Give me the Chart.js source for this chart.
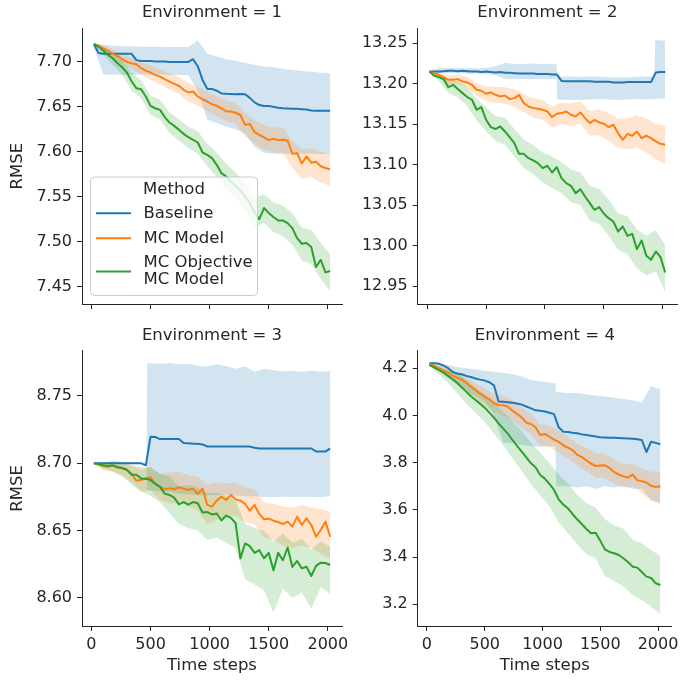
<!DOCTYPE html>
<html>
<head>
<meta charset="utf-8">
<script src="https://cdn.jsdelivr.net/npm/chart.js@4/dist/chart.umd.min.js"></script>
<style>
  body { margin: 0; background: #fff; }
  #page { position: relative; width: 683px; height: 682px; overflow: hidden; }
  .panel { position: absolute; }
</style>
</head>
<body>
<div id="page">
  <div class="panel" style="left:0;top:0"><canvas id="env1" width="360" height="320"></canvas></div>
  <div class="panel" style="left:340px;top:0"><canvas id="env2" width="343" height="320"></canvas></div>
  <div class="panel" style="left:0;top:320px"><canvas id="env3" width="360" height="362"></canvas></div>
  <div class="panel" style="left:340px;top:320px"><canvas id="env4" width="343" height="362"></canvas></div>
</div>
<script>
// x positions of the mean lines and of the band edges
const timeSteps = [20, 60, 100, 140, 180, 220, 260, 300, 340, 380, 420, 460, 500, 540, 580, 620, 660, 700, 740, 780,
  820, 860, 900, 940, 980, 1020, 1060, 1100, 1140, 1180, 1220, 1260, 1300, 1340, 1380, 1420, 1460, 1500, 1540, 1580,
  1620, 1660, 1700, 1740, 1780, 1820, 1860, 1900, 1940, 1980, 2020];
const bandSteps = [20, 100, 180, 260, 340, 420, 500, 580, 660, 740, 820, 900, 980, 1060, 1140, 1220, 1300, 1380,
  1460, 1540, 1620, 1700, 1780, 1860, 1940, 2020];
const xTicks = [0, 500, 1000, 1500, 2000];

const methods = ['Baseline', 'MC Model', ['MC Objective', 'MC Model']];
const legendTitle = 'Method';

// Environment 1
const env1Baseline = [7.720, 7.710, 7.709, 7.709, 7.709, 7.709, 7.709, 7.709, 7.709, 7.702,
  7.701, 7.701, 7.701, 7.7005, 7.7005, 7.7005, 7.700, 7.700, 7.700, 7.700,
  7.700, 7.703, 7.695, 7.680, 7.670, 7.670, 7.668, 7.665, 7.6645, 7.6644,
  7.664, 7.6642, 7.664, 7.660, 7.655, 7.652, 7.651, 7.651, 7.650, 7.649,
  7.6485, 7.6483, 7.648, 7.648, 7.6475, 7.647, 7.646, 7.6458, 7.6458, 7.6457, 7.6456];
const env1BaselineHi = [7.7205, 7.719, 7.718, 7.7175, 7.7175, 7.717, 7.717, 7.717, 7.7165, 7.7165, 7.7165, 7.724, 7.709,
  7.706, 7.703, 7.701, 7.699, 7.697, 7.695, 7.694, 7.692, 7.691, 7.690, 7.689, 7.688, 7.6875];
const env1BaselineLo = [7.716, 7.686, 7.686, 7.6855, 7.6855, 7.686, 7.686, 7.686, 7.6855, 7.6855, 7.6855, 7.668, 7.636,
  7.632, 7.628, 7.625, 7.620, 7.606, 7.599, 7.598, 7.598, 7.5975, 7.598, 7.598, 7.5975, 7.598];
const env1Model = [7.720, 7.7178, 7.7152, 7.7126, 7.7089, 7.7067, 7.703, 7.700, 7.6986, 7.6975,
  7.693, 7.6904, 7.6882, 7.6856, 7.6837, 7.6808, 7.6782, 7.6756, 7.6734, 7.669,
  7.666, 7.6671, 7.6615, 7.6585, 7.656, 7.653, 7.6512, 7.6485, 7.645, 7.6449,
  7.6435, 7.641, 7.630, 7.631, 7.622, 7.619, 7.616, 7.613, 7.6145, 7.613,
  7.6135, 7.6125, 7.598, 7.5985, 7.587, 7.595, 7.588, 7.589, 7.584, 7.582, 7.5805];
const env1ModelHi = [7.7205, 7.7185, 7.714, 7.709, 7.705, 7.700, 7.696, 7.692, 7.687, 7.683, 7.677, 7.672, 7.667,
  7.662, 7.657, 7.655, 7.643, 7.635, 7.630, 7.627, 7.627, 7.612, 7.603, 7.604, 7.600, 7.598];
const env1ModelLo = [7.7195, 7.711, 7.703, 7.697, 7.692, 7.686, 7.680, 7.675, 7.669, 7.664, 7.656, 7.651, 7.645,
  7.640, 7.634, 7.631, 7.617, 7.609, 7.602, 7.600, 7.598, 7.583, 7.570, 7.572, 7.566, 7.562];
const env1Objective = [7.720, 7.7171, 7.7126, 7.7078, 7.7041, 7.6986, 7.6941, 7.6882, 7.6782, 7.6708,
  7.6697, 7.6615, 7.6511, 7.6485, 7.6467, 7.6386, 7.6326, 7.6289, 7.6245, 7.620,
  7.6163, 7.6134, 7.6104, 7.5993, 7.5967, 7.593, 7.5856, 7.5763, 7.5726, 7.5671,
  7.5623, 7.5571, 7.5504, 7.543, 7.5326, 7.5252, 7.5375, 7.5319, 7.5275, 7.5237,
  7.5237, 7.5208, 7.5152, 7.5041, 7.4978, 7.4986, 7.4941, 7.4719, 7.480, 7.466, 7.4675];
const env1ObjectiveHi = [7.7205, 7.716, 7.710, 7.702, 7.688, 7.680, 7.662, 7.658, 7.644, 7.636, 7.628, 7.623, 7.609,
  7.599, 7.587, 7.577, 7.566, 7.549, 7.553, 7.544, 7.540, 7.532, 7.516, 7.513, 7.499, 7.486];
const env1ObjectiveLo = [7.7195, 7.708, 7.697, 7.686, 7.668, 7.660, 7.641, 7.636, 7.621, 7.613, 7.604, 7.598, 7.584,
  7.572, 7.558, 7.548, 7.535, 7.516, 7.521, 7.511, 7.506, 7.497, 7.479, 7.475, 7.459, 7.445];
const env1Ticks = [7.45, 7.50, 7.55, 7.60, 7.65, 7.70];

// Environment 2
const env2Baseline = [13.215, 13.215, 13.215, 13.2155, 13.216, 13.216, 13.2155, 13.216, 13.2155, 13.215,
  13.215, 13.2145, 13.215, 13.2145, 13.214, 13.2145, 13.2135, 13.2135, 13.213, 13.2125,
  13.2125, 13.2125, 13.2125, 13.212, 13.212, 13.212, 13.2115, 13.2115, 13.2035, 13.203,
  13.203, 13.203, 13.203, 13.203, 13.203, 13.2025, 13.2025, 13.2025, 13.2025, 13.2015,
  13.2015, 13.2015, 13.202, 13.202, 13.202, 13.202, 13.202, 13.202, 13.214, 13.2145, 13.2145];
const env2BaselineSteps = [20, 100, 180, 260, 340, 420, 500, 580, 660, 740, 820, 900, 980, 1060, 1098, 1104, 1220,
  1300, 1380, 1460, 1540, 1620, 1700, 1780, 1860, 1928, 1936, 2020];
const env2BaselineHi = [13.2155, 13.219, 13.2195, 13.219, 13.219, 13.219, 13.2195, 13.2215, 13.2255, 13.2245, 13.2245,
  13.225, 13.2245, 13.224, 13.224, 13.209, 13.209, 13.2085, 13.209, 13.209, 13.208, 13.208, 13.208, 13.2085, 13.209,
  13.209, 13.254, 13.253];
const env2BaselineLo = [13.2145, 13.2135, 13.213, 13.213, 13.2125, 13.2125, 13.212, 13.2105, 13.206, 13.2055, 13.206,
  13.2055, 13.2055, 13.206, 13.206, 13.1805, 13.180, 13.180, 13.1805, 13.181, 13.1805, 13.180, 13.1805, 13.181, 13.1805,
  13.1805, 13.1815, 13.1815];
const env2Model = [13.2152, 13.2131, 13.211, 13.2082, 13.2049, 13.2049, 13.2057, 13.2028, 13.2016, 13.1987,
  13.1925, 13.1913, 13.1876, 13.1892, 13.1863, 13.1843, 13.1855, 13.181, 13.1822, 13.1863,
  13.176, 13.1719, 13.1699, 13.169, 13.1678, 13.1657, 13.1587, 13.1629, 13.1637, 13.1657,
  13.1616, 13.1596, 13.1645, 13.1575, 13.1513, 13.1554, 13.1521, 13.1505, 13.1464, 13.1493,
  13.139, 13.1307, 13.1381, 13.1357, 13.141, 13.1328, 13.1357, 13.1328, 13.1287, 13.1258, 13.1245];
const env2ModelHi = [13.2162, 13.215, 13.210, 13.2117, 13.2086, 13.2005, 13.1966, 13.1963, 13.1955, 13.1932, 13.187,
  13.1819, 13.1798, 13.1717, 13.1767, 13.1756, 13.1785, 13.1663, 13.1681, 13.1634, 13.157, 13.1571, 13.161, 13.1567, 13.1507, 13.1485];
const env2ModelLo = [13.2142, 13.207, 13.200, 13.1997, 13.1946, 13.1845, 13.1786, 13.1763, 13.1755, 13.1712, 13.165,
  13.1579, 13.1558, 13.1457, 13.1507, 13.1476, 13.1505, 13.1363, 13.1361, 13.1294, 13.121, 13.1191, 13.121, 13.1147, 13.1067, 13.1005];
const env2Objective = [13.2152, 13.2098, 13.2082, 13.2057, 13.1958, 13.1987, 13.1934, 13.1884, 13.1835, 13.1802,
  13.1678, 13.1711, 13.1555, 13.1464, 13.144, 13.1472, 13.141, 13.134, 13.1266, 13.1134,
  13.1134, 13.108, 13.1052, 13.1019, 13.0957, 13.0986, 13.0903, 13.0969, 13.0833, 13.0772,
  13.0739, 13.0648, 13.0697, 13.0607, 13.0524, 13.0442, 13.0475, 13.0393, 13.0339, 13.0298,
  13.0174, 13.0236, 13.012, 13.0145, 12.9956, 13.0063, 12.9873, 12.9824, 12.9927, 12.9857, 12.9667];
const env2ObjectiveHi = [13.2162, 13.2135, 13.2035, 13.2035, 13.1955, 13.1815, 13.1705, 13.160, 13.158, 13.144, 13.131,
  13.124, 13.115, 13.110, 13.103, 13.094, 13.091, 13.074, 13.070, 13.057, 13.040, 13.036, 13.020, 13.012, 13.019, 13.000];
const env2ObjectiveLo = [13.2142, 13.2035, 13.1885, 13.1835, 13.1725, 13.1545, 13.1415, 13.129, 13.125, 13.110, 13.096,
  13.088, 13.078, 13.071, 13.065, 13.054, 13.050, 13.031, 13.027, 13.012, 12.995, 12.989, 12.972, 12.963, 12.968, 12.943];
const env2Ticks = [12.95, 13.00, 13.05, 13.10, 13.15, 13.20, 13.25];

// Environment 3
const env3Baseline = [8.700, 8.700, 8.700, 8.700, 8.700, 8.700, 8.700, 8.700, 8.700, 8.700,
  8.700, 8.6985, 8.7198, 8.7195, 8.718, 8.718, 8.718, 8.718, 8.718, 8.715,
  8.7148, 8.7145, 8.7145, 8.714, 8.7125, 8.7124, 8.7124, 8.7124, 8.7124, 8.7124,
  8.7124, 8.7124, 8.7124, 8.7124, 8.7115, 8.711, 8.711, 8.711, 8.711, 8.711,
  8.711, 8.711, 8.711, 8.711, 8.711, 8.711, 8.711, 8.7088, 8.7087, 8.7087, 8.7111];
const env3BaselineSteps = [20, 100, 180, 260, 340, 420, 466, 472, 580, 660, 740, 820, 900, 980, 1060, 1140, 1220,
  1300, 1380, 1460, 1540, 1620, 1700, 1780, 1860, 1940, 2020];
const env3BaselineHi = [8.7005, 8.7005, 8.7005, 8.7005, 8.7005, 8.7005, 8.7005, 8.7745, 8.774, 8.7745, 8.7735, 8.774,
  8.7725, 8.7718, 8.7735, 8.772, 8.7702, 8.7718, 8.768, 8.770, 8.769, 8.7682, 8.7688, 8.768, 8.7688, 8.768, 8.7685];
const env3BaselineLo = [8.6995, 8.6995, 8.6995, 8.6995, 8.6995, 8.6995, 8.6995, 8.680, 8.679, 8.679, 8.6775, 8.677,
  8.6765, 8.676, 8.6765, 8.6765, 8.676, 8.6755, 8.6755, 8.675, 8.675, 8.6752, 8.675, 8.6752, 8.675, 8.675, 8.6755];
const env3Model = [8.700, 8.699, 8.698, 8.6975, 8.6982, 8.6968, 8.6963, 8.695, 8.692, 8.6871,
  8.6876, 8.6888, 8.6896, 8.6846, 8.6827, 8.6807, 8.6814, 8.6807, 8.6822, 8.6812,
  8.6802, 8.6812, 8.6772, 8.6812, 8.6691, 8.6678, 8.6723, 8.6752, 8.6728, 8.6765,
  8.6732, 8.6723, 8.6698, 8.6648, 8.6691, 8.6624, 8.6584, 8.6589, 8.6574, 8.6564,
  8.6549, 8.6567, 8.653, 8.6604, 8.6542, 8.6591, 8.6542, 8.6455, 8.6505, 8.6567, 8.6455];
const env3ModelHi = [8.7005, 8.700, 8.701, 8.701, 8.699, 8.695, 8.697, 8.692, 8.693, 8.694, 8.691, 8.690, 8.684,
  8.686, 8.685, 8.686, 8.682, 8.681, 8.671, 8.670, 8.668, 8.667, 8.669, 8.667, 8.666, 8.664];
const env3ModelLo = [8.6995, 8.695, 8.694, 8.690, 8.686, 8.679, 8.680, 8.673, 8.670, 8.671, 8.668, 8.665, 8.655,
  8.658, 8.660, 8.661, 8.656, 8.655, 8.645, 8.643, 8.639, 8.637, 8.639, 8.637, 8.633, 8.629];
const env3Objective = [8.700, 8.6995, 8.6985, 8.698, 8.6986, 8.6972, 8.6965, 8.6952, 8.6915, 8.6915,
  8.6888, 8.6885, 8.6875, 8.6848, 8.6825, 8.6775, 8.6765, 8.6745, 8.6695, 8.6712,
  8.6693, 8.6712, 8.6703, 8.6635, 8.6638, 8.662, 8.6627, 8.6575, 8.6612, 8.6595,
  8.6555, 8.6294, 8.6405, 8.6385, 8.6335, 8.6355, 8.6295, 8.6335, 8.6205, 8.6335,
  8.628, 8.6375, 8.623, 8.6275, 8.622, 8.6232, 8.6163, 8.6238, 8.6262, 8.626, 8.6245];
const env3ObjectiveHi = [8.7005, 8.700, 8.702, 8.701, 8.698, 8.697, 8.697, 8.692, 8.690, 8.683, 8.684, 8.682, 8.678,
  8.678, 8.676, 8.672, 8.655, 8.652, 8.650, 8.642, 8.648, 8.641, 8.644, 8.636, 8.642, 8.638];
const env3ObjectiveLo = [8.6995, 8.696, 8.694, 8.691, 8.684, 8.679, 8.676, 8.671, 8.663, 8.655, 8.652, 8.650, 8.643,
  8.645, 8.641, 8.637, 8.614, 8.610, 8.606, 8.589, 8.607, 8.600, 8.604, 8.592, 8.608, 8.603];
const env3Ticks = [8.60, 8.65, 8.70, 8.75];

// Environment 4
const env4Baseline = [4.221, 4.221, 4.220, 4.212, 4.202, 4.185, 4.178, 4.175, 4.168, 4.163,
  4.157, 4.152, 4.148, 4.141, 4.128, 4.059, 4.058, 4.056, 4.054, 4.051,
  4.046, 4.038, 4.030, 4.022, 4.020, 4.017, 4.012, 4.006, 3.950, 3.931,
  3.930, 3.927, 3.925, 3.920, 3.917, 3.914, 3.911, 3.908, 3.907, 3.906,
  3.906, 3.905, 3.904, 3.903, 3.901, 3.899, 3.896, 3.845, 3.889, 3.884, 3.878];
const env4BaselineSteps = [20, 100, 180, 260, 340, 420, 500, 580, 660, 740, 820, 900, 980, 1060, 1112, 1118, 1220,
  1300, 1380, 1460, 1540, 1620, 1700, 1780, 1860, 1940, 2020];
const env4BaselineHi = [4.222, 4.222, 4.215, 4.205, 4.200, 4.195, 4.190, 4.185, 4.180, 4.175, 4.165, 4.150, 4.145,
  4.140, 4.136, 4.100, 4.095, 4.095, 4.090, 4.085, 4.080, 4.075, 4.070, 4.065, 4.055, 4.125, 4.110];
const env4BaselineLo = [4.220, 4.190, 4.160, 4.130, 4.100, 4.080, 4.060, 4.000, 3.885, 3.882, 3.875, 3.870, 3.868,
  3.870, 3.870, 3.700, 3.700, 3.695, 3.700, 3.690, 3.700, 3.695, 3.700, 3.690, 3.690, 3.640, 3.630];
const env4Model = [4.2183, 4.2112, 4.2014, 4.1915, 4.1816, 4.1703, 4.1604, 4.1519, 4.1392, 4.1223,
  4.1067, 4.0912, 4.0799, 4.0686, 4.053, 4.0446, 4.0432, 4.0375, 4.0206, 4.0064,
  3.9923, 3.9697, 3.9641, 3.950, 3.9175, 3.9217, 3.9104, 3.898, 3.888, 3.874,
  3.864, 3.853, 3.834, 3.824, 3.810, 3.796, 3.786, 3.788, 3.789, 3.778,
  3.760, 3.750, 3.742, 3.737, 3.750, 3.726, 3.722, 3.716, 3.702, 3.697, 3.700];
const env4ModelHi = [4.2195, 4.212, 4.198, 4.182, 4.165, 4.138, 4.115, 4.090, 4.085, 4.062, 4.035, 4.008, 3.962,
  3.955, 3.935, 3.912, 3.880, 3.862, 3.840, 3.838, 3.812, 3.795, 3.795, 3.775, 3.762, 3.762];
const env4ModelLo = [4.217, 4.190, 4.164, 4.138, 4.112, 4.075, 4.045, 4.016, 4.000, 3.978, 3.948, 3.920, 3.872,
  3.866, 3.842, 3.818, 3.790, 3.764, 3.735, 3.735, 3.712, 3.695, 3.700, 3.668, 3.640, 3.625];
const env4Objective = [4.2141, 4.2042, 4.1929, 4.183, 4.1689, 4.1547, 4.1392, 4.1194, 4.1011, 4.0813,
  4.0658, 4.0502, 4.0333, 4.0121, 3.9909, 3.9669, 3.9443, 3.9231, 3.8963, 3.8708,
  3.8468, 3.8228, 3.7974, 3.7805, 3.748, 3.7324, 3.7098, 3.6844, 3.6449, 3.6223,
  3.6067, 3.5827, 3.5601, 3.5403, 3.5192, 3.5008, 3.5036, 3.4697, 3.433, 3.4217,
  3.4161, 3.409, 3.3949, 3.3793, 3.3595, 3.3553, 3.3369, 3.3172, 3.3115, 3.2889, 3.2819];
const env4ObjectiveHi = [4.2155, 4.205, 4.195, 4.180, 4.150, 4.118, 4.090, 4.055, 4.015, 3.975, 3.935, 3.885, 3.842,
  3.800, 3.750, 3.712, 3.665, 3.628, 3.610, 3.560, 3.535, 3.520, 3.475, 3.458, 3.430, 3.405];
const env4ObjectiveLo = [4.2125, 4.175, 4.140, 4.095, 4.050, 4.012, 3.972, 3.925, 3.872, 3.820, 3.765, 3.710, 3.662,
  3.615, 3.548, 3.502, 3.455, 3.412, 3.395, 3.320, 3.300, 3.275, 3.238, 3.218, 3.190, 3.158];
const env4Ticks = [3.2, 3.4, 3.6, 3.8, 4.0, 4.2];

const lineColors = ['#1f77b4', '#ff7f0e', '#2ca02c'];
const bandColors = ['rgba(31,119,180,0.2)', 'rgba(255,127,14,0.2)', 'rgba(44,160,44,0.2)'];
const ink = '#262626';

Chart.defaults.font.family = '"DejaVu Sans", sans-serif';
Chart.defaults.color = ink;

// legend box drawn inside the first panel, like the seaborn one
const methodLegend = {
  id: 'methodLegend',
  afterDatasetsDraw(chart) {
    const ctx = chart.ctx;
    const x = 90.5, y = 177, w = 167, h = 118.5, r = 4;
    ctx.save();
    ctx.beginPath();
    ctx.moveTo(x + r, y);
    ctx.arcTo(x + w, y, x + w, y + h, r);
    ctx.arcTo(x + w, y + h, x, y + h, r);
    ctx.arcTo(x, y + h, x, y, r);
    ctx.arcTo(x, y, x + w, y, r);
    ctx.closePath();
    ctx.fillStyle = 'rgba(255,255,255,0.8)';
    ctx.fill();
    ctx.strokeStyle = '#cccccc';
    ctx.lineWidth = 1;
    ctx.stroke();

    ctx.font = '16.5px "DejaVu Sans"';
    ctx.fillStyle = ink;
    ctx.textBaseline = 'middle';
    ctx.textAlign = 'center';
    ctx.fillText(legendTitle, 174, 190);
    ctx.textAlign = 'left';
    const rows = [213.3, 238.3, 271.5];
    methods.forEach((m, i) => {
      ctx.strokeStyle = lineColors[i];
      ctx.lineWidth = 2;
      ctx.beginPath();
      ctx.moveTo(96, rows[i]);
      ctx.lineTo(131, rows[i]);
      ctx.stroke();
      const parts = [].concat(m);
      parts.forEach((t, k) => {
        ctx.fillText(t, 143.5, rows[i] - (parts.length - 1) * 8.65 + k * 17.3);
      });
    });
    ctx.restore();
  }
};

function drawPanel(id, p) {
  const datasets = [];
  p.means.forEach((vals, i) => {
    datasets.push({
      label: [].concat(methods[i]).join(' '),
      data: timeSteps.map((x, j) => ({ x: x, y: vals[j] })),
      borderColor: lineColors[i],
      borderWidth: 2,
      borderJoinStyle: 'round',
      pointRadius: 0,
      fill: false,
      order: 2 - i
    });
  });
  p.bands.forEach((b, i) => {
    const xs = b[2] || bandSteps;
    datasets.push({
      label: 'lo',
      data: xs.map((x, j) => ({ x: x, y: b[0][j] })),
      borderColor: 'rgba(0,0,0,0)',
      borderWidth: 0,
      pointRadius: 0,
      fill: false,
      order: 12 - i
    });
    datasets.push({
      label: 'hi',
      data: xs.map((x, j) => ({ x: x, y: b[1][j] })),
      borderColor: 'rgba(0,0,0,0)',
      backgroundColor: bandColors[i],
      borderWidth: 0,
      pointRadius: 0,
      fill: '-1',
      order: 12 - i
    });
  });

  const axisLine = { display: true, color: ink, width: 1 };
  const tickMarks = { display: true, drawOnChartArea: false, drawTicks: true, tickLength: 5, color: ink, lineWidth: 1 };

  new Chart(document.getElementById(id), {
    type: 'line',
    data: { datasets: datasets },
    plugins: p.legend ? [methodLegend] : [],
    options: {
      responsive: false,
      animation: false,
      events: [],
      layout: { padding: { left: 0, right: p.padRight, top: 0, bottom: 0 } },
      plugins: {
        legend: { display: false },
        tooltip: { enabled: false },
        title: {
          display: true,
          text: p.title,
          fullSize: false,
          color: ink,
          font: { size: 16.5, weight: 'normal' },
          padding: { top: p.titleTop, bottom: p.titleBottom }
        }
      },
      scales: {
        x: {
          type: 'linear',
          min: -80,
          max: 2120,
          afterBuildTicks: s => { s.ticks = xTicks.map(v => ({ value: v })); },
          afterFit: s => { s.height = p.xHeight; },
          ticks: { display: p.xLabels, font: { size: 16 }, color: ink, padding: 4, maxRotation: 0, autoSkip: false,
                   callback: v => String(v) },
          grid: tickMarks,
          border: axisLine,
          title: { display: p.xLabels, text: 'Time steps', color: ink, font: { size: 16.5 }, padding: { top: 0, bottom: 6 } }
        },
        y: {
          type: 'linear',
          min: p.yMin,
          max: p.yMax,
          afterBuildTicks: s => { s.ticks = p.yTicks.map(v => ({ value: v })); },
          afterFit: s => { s.width = p.yWidth; },
          ticks: { font: { size: 16 }, color: ink, padding: 5, callback: v => v.toFixed(p.decimals) },
          grid: tickMarks,
          border: axisLine,
          title: { display: p.yLabel, text: 'RMSE', color: ink, font: { size: 16.5 }, padding: { top: 8, bottom: 0 } }
        }
      }
    }
  });
}

drawPanel('env1', {
  title: 'Environment = 1',
  means: [env1Baseline, env1Model, env1Objective],
  bands: [[env1BaselineLo, env1BaselineHi], [env1ModelLo, env1ModelHi], [env1ObjectiveLo, env1ObjectiveHi]],
  yMin: 7.4308, yMax: 7.7374, yTicks: env1Ticks, decimals: 2,
  yWidth: 82, padRight: 18, titleTop: 3.1, titleBottom: 5.4, xHeight: 16,
  xLabels: false, yLabel: true, legend: true
});
drawPanel('env2', {
  title: 'Environment = 2',
  means: [env2Baseline, env2Model, env2Objective],
  bands: [[env2BaselineLo, env2BaselineHi, env2BaselineSteps], [env2ModelLo, env2ModelHi], [env2ObjectiveLo, env2ObjectiveHi]],
  yMin: 12.9278, yMax: 13.2685, yTicks: env2Ticks, decimals: 2,
  yWidth: 77.7, padRight: 6, titleTop: 3.1, titleBottom: 5.4, xHeight: 16,
  xLabels: false, yLabel: false, legend: false
});
drawPanel('env3', {
  title: 'Environment = 3',
  means: [env3Baseline, env3Model, env3Objective],
  bands: [[env3BaselineLo, env3BaselineHi, env3BaselineSteps], [env3ModelLo, env3ModelHi], [env3ObjectiveLo, env3ObjectiveHi]],
  yMin: 8.5792, yMax: 8.7836, yTicks: env3Ticks, decimals: 2,
  yWidth: 82, padRight: 18, titleTop: 6.1, titleBottom: 4.8, xHeight: 56,
  xLabels: true, yLabel: true, legend: false
});
drawPanel('env4', {
  title: 'Environment = 4',
  means: [env4Baseline, env4Model, env4Objective],
  bands: [[env4BaselineLo, env4BaselineHi, env4BaselineSteps], [env4ModelLo, env4ModelHi], [env4ObjectiveLo, env4ObjectiveHi]],
  yMin: 3.108, yMax: 4.2746, yTicks: env4Ticks, decimals: 1,
  yWidth: 77.7, padRight: 6, titleTop: 6.1, titleBottom: 4.8, xHeight: 56,
  xLabels: true, yLabel: false, legend: false
});
</script>
</body>
</html>
